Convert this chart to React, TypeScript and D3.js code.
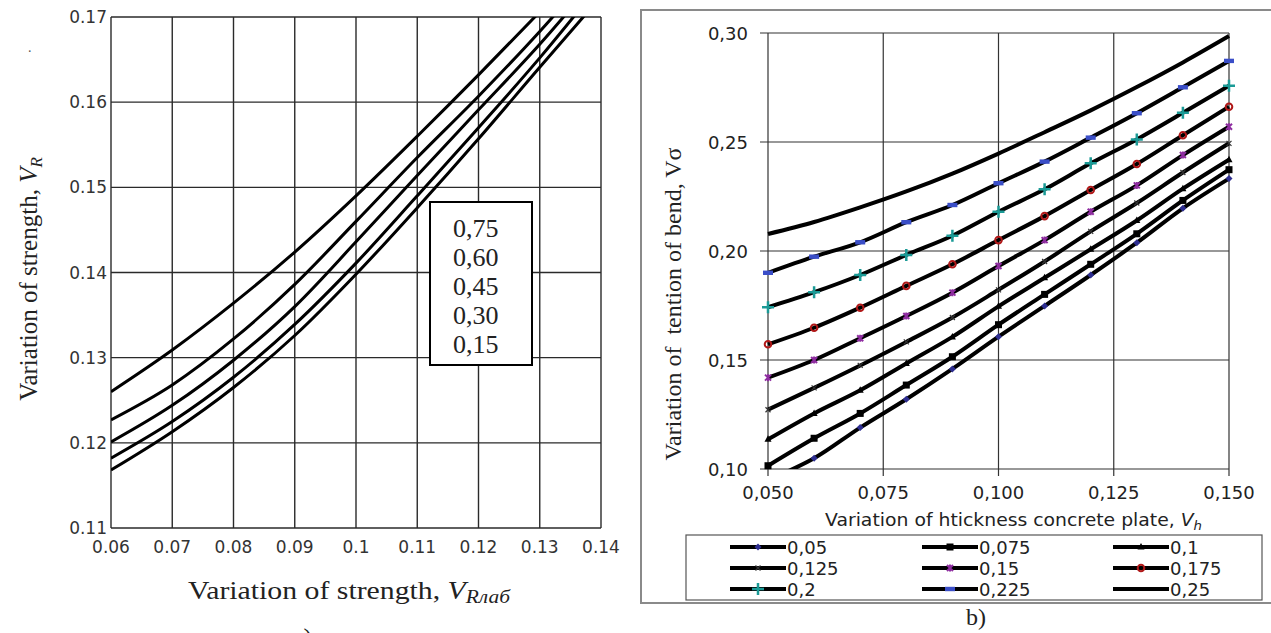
import React from 'react';
import * as d3 from 'd3';

// ---------- Left chart data ----------
const leftX = [0.06, 0.07, 0.08, 0.09, 0.10, 0.11, 0.12, 0.13, 0.14];
const left075 = [0.1260, 0.1309, 0.1364, 0.1424, 0.1490, 0.1560, 0.1632, 0.1706, 0.1782];
const left060 = [0.1227, 0.1268, 0.1322, 0.1386, 0.1460, 0.1535, 0.1607, 0.1683, 0.1765];
const left045 = [0.1201, 0.1244, 0.1297, 0.1360, 0.1436, 0.1514, 0.1591, 0.1668, 0.1752];
const left030 = [0.1182, 0.1225, 0.1277, 0.1339, 0.1411, 0.1490, 0.1570, 0.1652, 0.1740];
const left015 = [0.1168, 0.1213, 0.1265, 0.1326, 0.1398, 0.1476, 0.1557, 0.1641, 0.1724];
const leftLegend = ['0,75', '0,60', '0,45', '0,30', '0,15'];
const leftXTicks = [0.06, 0.07, 0.08, 0.09, 0.10, 0.11, 0.12, 0.13, 0.14];
const leftXTickLabels = ['0.06', '0.07', '0.08', '0.09', '0.1', '0.11', '0.12', '0.13', '0.14'];
const leftYTicks = [0.11, 0.12, 0.13, 0.14, 0.15, 0.16, 0.17];
const leftYTickLabels = ['0.11', '0.12', '0.13', '0.14', '0.15', '0.16', '0.17'];

// ---------- Right chart data ----------
const rightX = [0.05, 0.06, 0.07, 0.08, 0.09, 0.10, 0.11, 0.12, 0.13, 0.14, 0.15];
const r005 = [0.0950, 0.1049, 0.1190, 0.1320, 0.1459, 0.1607, 0.1748, 0.1890, 0.2038, 0.2196, 0.2332];
const r0075 = [0.1015, 0.1141, 0.1255, 0.1385, 0.1515, 0.1662, 0.1801, 0.1939, 0.2079, 0.2232, 0.2373];
const r01 = [0.1136, 0.1255, 0.1361, 0.1484, 0.1606, 0.1746, 0.1877, 0.2008, 0.2140, 0.2286, 0.2419];
const r0125 = [0.1272, 0.1372, 0.1475, 0.1583, 0.1695, 0.1822, 0.1952, 0.2090, 0.2220, 0.2360, 0.2494];
const r015 = [0.1419, 0.1500, 0.1600, 0.1702, 0.1809, 0.1931, 0.2050, 0.2180, 0.2301, 0.2440, 0.2570];
const r0175 = [0.1572, 0.1648, 0.1740, 0.1840, 0.1939, 0.2050, 0.2160, 0.2280, 0.2399, 0.2531, 0.2662];
const r02 = [0.1742, 0.1811, 0.1890, 0.1982, 0.2070, 0.2180, 0.2283, 0.2402, 0.2512, 0.2634, 0.2758];
const r0225 = [0.1900, 0.1974, 0.2040, 0.2132, 0.2211, 0.2311, 0.2410, 0.2520, 0.2632, 0.2751, 0.2872];
const r025 = [0.2078, 0.2133, 0.2200, 0.2273, 0.2355, 0.2447, 0.2545, 0.2645, 0.2752, 0.2865, 0.2986];
const rightLabels = ['0,05', '0,075', '0,1', '0,125', '0,15', '0,175', '0,2', '0,225', '0,25'];
const rightMarkers = ['diamond', 'square', 'triangle', 'x', 'star', 'circle', 'plus', 'dash', 'none'];
const rightXTicks = [0.05, 0.075, 0.1, 0.125, 0.15];
const rightXTickLabels = ['0,050', '0,075', '0,100', '0,125', '0,150'];
const rightYTicks = [0.10, 0.15, 0.20, 0.25, 0.30];
const rightYTickLabels = ['0,10', '0,15', '0,20', '0,25', '0,30'];

const SERIF = '"Liberation Serif", "Times New Roman", serif';
const SANS = '"DejaVu Sans", sans-serif';

function Marker({ type, x, y }: { type: string; x: number; y: number }) {
  switch (type) {
    case 'diamond':
      return <path d={`M${x},${y - 3.5}L${x + 3.5},${y}L${x},${y + 3.5}L${x - 3.5},${y}Z`} fill="#2e2e90" />;
    case 'square':
      return <rect x={x - 3.5} y={y - 3.5} width={7} height={7} fill="#000" />;
    case 'triangle':
      return <path d={`M${x},${y - 4}L${x + 3.5},${y + 2.5}L${x - 3.5},${y + 2.5}Z`} fill="#000" />;
    case 'x':
      return <path d={`M${x - 2.5},${y - 2.5}L${x + 2.5},${y + 2.5}M${x - 2.5},${y + 2.5}L${x + 2.5},${y - 2.5}`} stroke="#333" strokeWidth={1.2} />;
    case 'star':
      return (
        <g stroke="#8e2ca0" strokeWidth={2}>
          <path d={`M${x - 3},${y - 3}L${x + 3},${y + 3}M${x - 3},${y + 3}L${x + 3},${y - 3}M${x},${y - 3.5}L${x},${y + 3.5}`} />
        </g>
      );
    case 'circle':
      return <circle cx={x} cy={y} r={3.3} fill="none" stroke="#b01818" strokeWidth={2} />;
    case 'plus':
      return <path d={`M${x - 6},${y}L${x + 6},${y}M${x},${y - 6}L${x},${y + 6}`} stroke="#1a9a96" strokeWidth={2.5} />;
    case 'dash':
      return <rect x={x - 5} y={y - 2.2} width={10} height={4.4} fill="#3a4ec8" />;
    default:
      return null;
  }
}

export default function App() {
  // Left scales
  const lx = d3.scaleLinear().domain([0.06, 0.14]).range([111, 601]);
  const ly = d3.scaleLinear().domain([0.11, 0.17]).range([528, 17]);
  // Right scales
  const rx = d3.scaleLinear().domain([0.05, 0.15]).range([768, 1229]);
  const ry = d3.scaleLinear().domain([0.10, 0.30]).range([469, 33]);

  const leftSeries = [left075, left060, left045, left030, left015];
  const rightSeries = [r005, r0075, r01, r0125, r015, r0175, r02, r0225, r025].map((v, i) => ({
    values: v,
    label: rightLabels[i],
    marker: rightMarkers[i],
  }));

  const lLine = d3
    .line<number>()
    .x((_, i) => lx(leftX[i]))
    .y((d) => ly(d))
    .curve(d3.curveMonotoneX);
  const rLine = d3
    .line<number>()
    .x((_, i) => rx(rightX[i]))
    .y((d) => ry(d))
    .curve(d3.curveMonotoneX);

  const legendCols = [730, 922, 1113];
  const legendRows = [547, 568, 589];

  return (
    <svg
      width={1271}
      height={633}
      style={{ position: 'absolute', left: 0, top: 0, background: '#fff' }}
    >
      <defs>
        <clipPath id="leftClip">
          <rect x={111} y={17} width={490} height={511} />
        </clipPath>
        <clipPath id="rightClip">
          <rect x={700} y={0} width={560} height={469} />
        </clipPath>
      </defs>
      <rect x={0} y={0} width={1271} height={633} fill="#fff" />

      {/* ================= LEFT CHART ================= */}
      <text x={28} y={52} fontFamily={SERIF} fontSize={14} fill="#555">.</text>
      {leftXTicks.map((t) => (
        <line key={'lxg' + t} x1={lx(t)} x2={lx(t)} y1={ly(0.17)} y2={ly(0.11)} stroke="#2a2a2a" strokeWidth={1.4} />
      ))}
      {leftYTicks.map((t) => (
        <line key={'lyg' + t} x1={lx(0.06)} x2={lx(0.14)} y1={ly(t)} y2={ly(t)} stroke="#2a2a2a" strokeWidth={1.4} />
      ))}
      <g clipPath="url(#leftClip)">
        {leftSeries.map((s, i) => (
          <path key={'ls' + i} d={lLine(s) || ''} fill="none" stroke="#000" strokeWidth={3} />
        ))}
      </g>
      {leftYTicks.map((t, i) => (
        <text key={'lyl' + t} x={107} y={ly(t)} textAnchor="end" dominantBaseline="central" fontFamily={SANS} fontSize={17} fill="#333">
          {leftYTickLabels[i]}
        </text>
      ))}
      {leftXTicks.map((t, i) => (
        <text key={'lxl' + t} x={lx(t)} y={547} textAnchor="middle" dominantBaseline="central" fontFamily={SANS} fontSize={17} fill="#333">
          {leftXTickLabels[i]}
        </text>
      ))}
      {/* left legend */}
      <rect x={430} y={202} width={102} height={163} fill="#fff" stroke="#000" strokeWidth={2} />
      {leftLegend.map((l, i) => (
        <text key={'ll' + l} x={453} y={237 + i * 29} fontFamily={SERIF} fontSize={26} fill="#222">
          {l}
        </text>
      ))}
      {/* left axis titles */}
      <text
        transform={`translate(37,279) rotate(-90)`}
        textAnchor="middle"
        fontFamily={SERIF}
        fontSize={25}
        fill="#222"
      >
        Variation of strength, <tspan fontStyle="italic">V</tspan>
        <tspan fontStyle="italic" fontSize={17} dy={5}>R</tspan>
      </text>
      <text x={188} y={599} fontFamily={SERIF} fontSize={25} fill="#222" textLength={322} lengthAdjust="spacingAndGlyphs">
        Variation of strength, <tspan fontStyle="italic">V</tspan>
        <tspan fontStyle="italic" fontSize={18} dy={4}>Rлаб</tspan>
      </text>
      <text x={292} y={646} fontFamily={SERIF} fontSize={26} fill="#222">а)</text>

      {/* ================= RIGHT CHART ================= */}
      <path d="M1275,10 L641,10 L641,603 L1275,603" fill="none" stroke="#8a8a8a" strokeWidth={2} />
      {rightXTicks.map((t) => (
        <line key={'rxg' + t} x1={rx(t)} x2={rx(t)} y1={ry(0.30)} y2={ry(0.10) + 7} stroke="#333" strokeWidth={1.2} />
      ))}
      {rightYTicks.map((t) => (
        <line key={'ryg' + t} x1={rx(0.05) - 8} x2={rx(0.15)} y1={ry(t)} y2={ry(t)} stroke="#333" strokeWidth={1.2} />
      ))}
      <g clipPath="url(#rightClip)">
        {rightSeries.map((s, i) => (
          <path key={'rs' + i} d={rLine(s.values) || ''} fill="none" stroke="#000" strokeWidth={4} />
        ))}
      </g>
      {rightSeries.map((s, i) =>
        s.values.map((v, j) =>
          v >= 0.1 ? <Marker key={`m${i}-${j}`} type={s.marker} x={rx(rightX[j])} y={ry(v)} /> : null
        )
      )}
      {rightYTicks.map((t, i) => (
        <text key={'ryl' + t} x={748} y={ry(t)} textAnchor="end" dominantBaseline="central" fontFamily={SANS} fontSize={18} fill="#222">
          {rightYTickLabels[i]}
        </text>
      ))}
      {rightXTicks.map((t, i) => (
        <text key={'rxl' + t} x={rx(t)} y={492} textAnchor="middle" dominantBaseline="central" fontFamily={SANS} fontSize={18} fill="#222">
          {rightXTickLabels[i]}
        </text>
      ))}
      <text
        transform={`translate(681,304) rotate(-90)`}
        textAnchor="middle"
        fontFamily={SERIF}
        fontSize={24}
        fill="#222"
        style={{ whiteSpace: 'pre' }}
      >
        {'Variation of  tention of bend, Vσ'}
      </text>
      <text x={825} y={526} fontFamily={SANS} fontSize={17} fill="#222" textLength={377} lengthAdjust="spacingAndGlyphs">
        Variation of htickness concrete plate, <tspan fontStyle="italic">V</tspan>
        <tspan fontStyle="italic" fontSize={12} dy={4}>h</tspan>
      </text>
      {/* right legend */}
      <rect x={686} y={535} width={576} height={65} fill="#fff" stroke="#555" strokeWidth={1.2} />
      {rightSeries.map((s, i) => {
        const cx = legendCols[i % 3];
        const cy = legendRows[Math.floor(i / 3)];
        return (
          <g key={'rl' + i}>
            <line x1={cx} x2={cx + 56} y1={cy} y2={cy} stroke="#000" strokeWidth={4} />
            <Marker type={s.marker} x={cx + 28} y={cy} />
            <text x={cx + 57} y={cy} dominantBaseline="central" fontFamily={SANS} fontSize={18} fill="#222">
              {s.label}
            </text>
          </g>
        );
      })}
      <text x={966} y={625} fontFamily={SERIF} fontSize={24} fill="#222">b)</text>
    </svg>
  );
}
